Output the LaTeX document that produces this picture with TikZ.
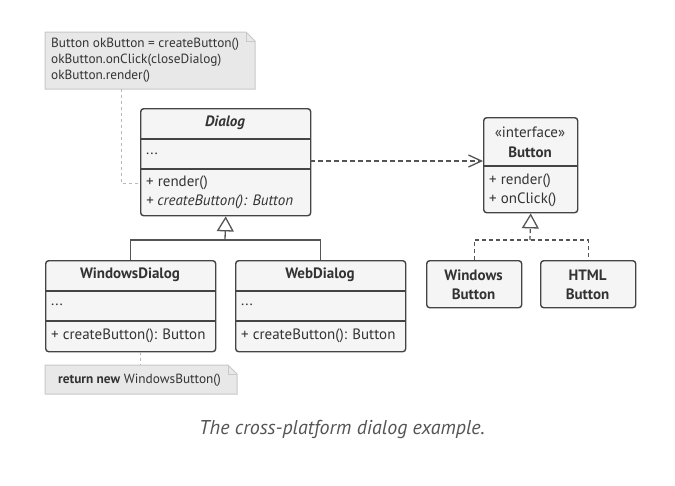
\documentclass[tikz,border=0pt]{standalone}
\usepackage{fontspec}
\setmainfont{PT Sans}
\newfontfamily\capfont{PT Sans}
\usetikzlibrary{arrows.meta}
\definecolor{boxc}{HTML}{444444}
\definecolor{boxf}{HTML}{F5F5F5}
\definecolor{txtc}{HTML}{333333}
\definecolor{notef}{HTML}{E8E8E8}
\definecolor{notec}{HTML}{C8C8C8}
\definecolor{connc}{HTML}{555555}
\definecolor{notelc}{HTML}{B8B8B8}
\definecolor{capc}{HTML}{555555}
\tikzset{
  cls/.style={draw=boxc, fill=boxf, line width=1.4pt, rounded corners=3pt, inner sep=0pt, anchor=north west},
  sep/.style={draw=boxc, line width=1.4pt},
  txt/.style={inner sep=0pt, text=txtc, font=\fontsize{15}{17}\selectfont},
  ltxt/.style={txt, anchor=west},
  htxt/.style={txt, font=\fontsize{15}{19}\selectfont\bfseries},
  ntxt/.style={ltxt, font=\fontsize{13.3}{16}\selectfont},
  notebox/.style={draw=notec, fill=notef, line width=1pt},
  notelink/.style={draw=notelc, line width=1pt, dash pattern=on 3pt off 3pt},
  conn/.style={draw=connc, line width=1.3pt},
  inh/.style={conn, -{Triangle[open, length=15pt, width=17pt, line width=1.3pt]}},
  dep/.style={conn, dash pattern=on 5pt off 3pt, -{Straight Barb[length=13pt, width=12pt, line width=1.3pt]}},
}
\begin{document}
\begin{tikzpicture}[x=1pt,y=-1pt]
\useasboundingbox (0,0) rectangle (675,485);
\fill[white] (0,0) rectangle (675,485);

% ---- note 1
\draw[notebox] (45,32) -- (246,32) -- (255,41) -- (255,89) -- (45,89) -- cycle;
\draw[notebox, fill=none] (246,32) -- (246,41) -- (255,41);
\node[ntxt] (n1l1) at (51,44) {Button okButton = createButton()};
\node[ntxt] (n1l2) at (51,60) {okButton.onClick(closeDialog)};
\node[ntxt] (n1l3) at (51,76) {okButton.render()};
\coordinate (n1a) at (121,89);

% ---- Dialog
\node[cls, minimum width=170pt, minimum height=107pt] (dialog) at (140,108) {};
\draw[sep] (140,139) -- (310,139);
\draw[sep] (140,169) -- (310,169);
\node[htxt, font=\fontsize{15}{17}\selectfont\bfseries\itshape] (dialogt) at (225,123) {Dialog};
\node[ltxt] (dialoga) at (146,154) {...};
\node[ltxt] (dialogm1) at (146,183) {+ render()};
\node[ltxt, font=\fontsize{15}{17}\selectfont\itshape] (dialogm2) at (146,202) {+ createButton(): Button};
\coordinate (n1b) at (121,183);

% ---- WindowsDialog
\node[cls, minimum width=170pt, minimum height=91pt] (wd) at (45,260) {};
\draw[sep] (45,291) -- (215,291);
\draw[sep] (45,321) -- (215,321);
\node[htxt] (wdt) at (130,275) {WindowsDialog};
\node[ltxt] (wda) at (51,305) {...};
\node[ltxt] (wdm) at (51,336) {+ createButton(): Button};

% ---- WebDialog
\node[cls, minimum width=170pt, minimum height=91pt] (webd) at (235,260) {};
\draw[sep] (235,291) -- (405,291);
\draw[sep] (235,321) -- (405,321);
\node[htxt] (webdt) at (320,275) {WebDialog};
\node[ltxt] (webda) at (241,305) {...};
\node[ltxt] (webdm) at (241,336) {+ createButton(): Button};

% ---- note 2
\draw[notebox] (45,365) -- (228,365) -- (237,374) -- (237,394) -- (45,394) -- cycle;
\draw[notebox, fill=none] (228,365) -- (228,374) -- (237,374);
\node[ntxt] (n2t) at (58,380) {\textbf{return new} WindowsButton()};
\coordinate (n2a) at (140,365);

% ---- Button interface
\node[cls, minimum width=94pt, minimum height=95pt] (button) at (483,117) {};
\draw[sep] (483,166) -- (577,166);
\node[txt] (buttons) at (530,132) {«interface»};
\node[htxt] (buttont) at (530,152) {Button};
\node[ltxt] (buttonm1) at (489,181) {+ render()};
\node[ltxt] (buttonm2) at (489,200) {+ onClick()};

% ---- Windows Button / HTML Button
\node[cls, minimum width=95pt, minimum height=47pt] (wb) at (426,260) {};
\node[htxt, align=center] (wbt) at (473.5,284.5) {Windows\\Button};
\node[cls, minimum width=95pt, minimum height=47pt] (hb) at (540,260) {};
\node[htxt, align=center] (hbt) at (587.5,284.5) {HTML\\Button};

% ---- connectors
\draw[notelink] (n1a) |- (n1b) -- (dialog.west |- n1b);
\draw[notelink] (wd.south -| n2a) -- (n2a);

\coordinate (j1) at (225,240);
\draw[inh] (j1) -- (dialog.south);
\draw[conn] (wd.north) |- (j1) -| (webd.north);

\coordinate (d1) at (310,161);
\draw[dep] (d1) -- (button.west |- d1);

\coordinate (j2) at (530,240);
\draw[inh, dash pattern=on 4pt off 3pt] (j2) -- (button.south);
\draw[conn, dash pattern=on 4pt off 3pt] (wb.north) |- (j2) -| (hb.north);

% ---- caption
\node[inner sep=0pt, text=capc, font=\capfont\itshape\fontsize{20}{24}\selectfont] (cap) at (342,429) {The cross-platform dialog example.};
\end{tikzpicture}
\end{document}
